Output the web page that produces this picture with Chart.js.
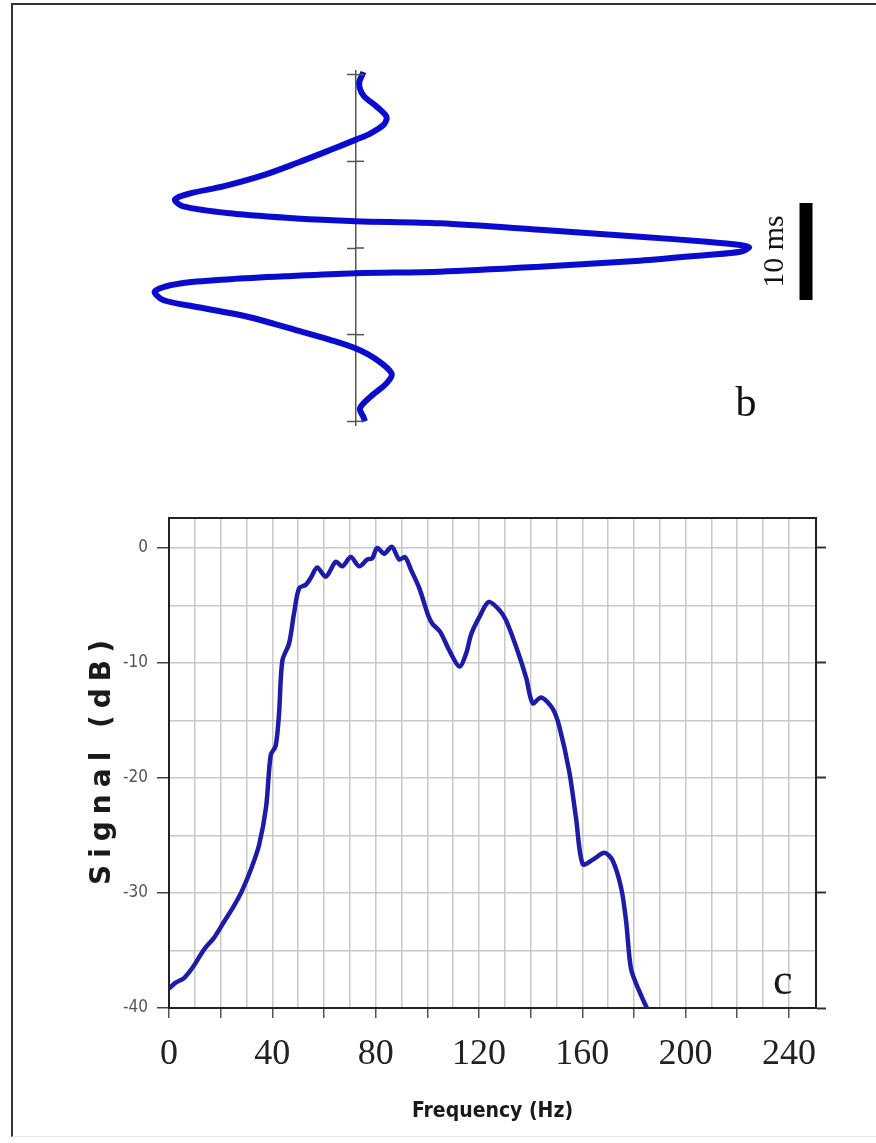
<!DOCTYPE html>
<html>
<head>
<meta charset="utf-8">
<title>Wavelet and amplitude spectrum</title>
<script src="https://cdn.jsdelivr.net/npm/chart.js@4/dist/chart.umd.min.js"></script>
<style>
    html, body { margin: 0; padding: 0; background: #fff; }
    body { width: 876px; height: 1143px; position: relative; overflow: hidden; }
    .frame {
        position: absolute; left: 11px; top: 3px; width: 880px; height: 1131px;
        border-left: 2px solid #333; border-top: 2px solid #333; border-bottom: 1px solid #e4e4e4;
    }
    canvas { position: absolute; left: 0; }
    #waveletChart { top: 0; }
    #spectrumChart { top: 480px; }
</style>
</head>
<body>
<div class="frame"></div>
<canvas id="waveletChart" width="876" height="480"></canvas>
<canvas id="spectrumChart" width="876" height="663"></canvas>

<script>
// Wavelet (panel b): time in ms (down the page) and normalised amplitude
const waveletTime = [
    -20.3, -19.0, -17.6, -16.3, -15.1, -14.2, -13.2, -12.5, -11.3, -9.8, -8.4, -7.1, -6.3, -5.6,
    -4.8, -4.0, -3.4, -3.1, -2.85, -2.1, -1.3, -0.73, -0.35, -0.08, 0.43, 0.8, 1.46, 2.16, 2.73,
    2.9, 3.2, 3.6, 4.1, 5.0, 6.0, 6.8, 7.9, 9.5, 10.6, 11.6, 12.9, 14.5, 15.6, 17.2, 18.5, 19.5, 20.0
];
const waveletAmp = [
    0.019, 0.008, 0.019, 0.053, 0.078, 0.07, 0.036, 0, -0.066, -0.151, -0.236, -0.339, -0.423, -0.462,
    -0.441, -0.321, -0.151, 0, 0.214, 0.469, 0.724, 0.895, 0.98, 1.003, 0.98, 0.895, 0.724, 0.469, 0.214,
    0, -0.151, -0.321, -0.449, -0.513, -0.492, -0.406, -0.279, -0.151, -0.066, 0, 0.053, 0.091, 0.078, 0.036, 0.01, 0.019, 0.023
];

// 10 ms scale bar beside the wavelet
const scaleBarTime = [-5.2, 6.0];
const scaleBarAmp = 1.148;

// Amplitude spectrum (panel c)
const freqHz = [
    0, 2.6, 5.8, 9.7, 13.6, 17.4, 21.3, 25.2, 28.3, 31.8, 34.9, 37.6, 39.4, 41.3, 42.6, 43.9,
    46.5, 48.4, 50.4, 53.0, 54.9, 57.4, 60.7, 64.6, 67.1, 70.4, 73.6, 76.8, 78.7, 80.6, 83.3,
    86.3, 89.1, 91.4, 93.7, 96.9, 100.4, 102, 105, 108.5, 112.4, 115, 117, 120.2, 123.8, 127.9,
    130.5, 134.4, 138.3, 140.8, 144.1, 148.6, 151.2, 155, 157.6, 160.2, 164.1, 168.6, 171.8,
    175.1, 177, 178.9, 182.2, 185.4
];
const signalDb = [
    -38.3, -37.8, -37.4, -36.3, -34.9, -33.9, -32.5, -31.1, -29.8, -27.9, -25.8, -22.5, -18.0, -17.2, -14.4, -9.8,
    -8.3, -5.7, -3.5, -3.2, -2.6, -1.7, -2.5, -1.2, -1.6, -0.8, -1.6, -1.0, -0.9, 0, -0.5,
    0.1, -1.0, -0.8, -1.9, -3.5, -5.9, -6.6, -7.3, -8.9, -10.3, -9.2, -7.5, -6.0, -4.7, -5.4,
    -6.3, -8.6, -11.3, -13.5, -13.0, -14.0, -15.6, -19.5, -23.5, -27.5, -27.1, -26.5, -27.2,
    -29.6, -32.5, -36.6, -38.6, -40.2
];

// Axis ranges
const timeRange = [-20.5, 20.5];
const ampRange = [-0.6, 1.25];
const freqRange = [0, 250.5];
const dbRange = [-40, 2.6];

const transparent = "rgba(0,0,0,0)";

// Extra marks for panel b: right half of the axis ticks, bar label, panel letter
const waveletDecor = {
    id: "waveletDecor",
    afterDraw(chart) {
        const ctx = chart.ctx;
        const xs = chart.scales.x;
        const ys = chart.scales.y;
        const x0 = xs.getPixelForValue(0);

        ctx.save();
        ctx.strokeStyle = "#555";
        ctx.lineWidth = 1.5;
        ys.ticks.forEach((t) => {
            const y = ys.getPixelForValue(t.value);
            ctx.beginPath();
            ctx.moveTo(x0, y);
            ctx.lineTo(x0 + 8, y);
            ctx.stroke();
        });

        // "10 ms" label, rotated
        ctx.fillStyle = "#111";
        ctx.font = "30px 'Liberation Serif'";
        ctx.textAlign = "center";
        ctx.textBaseline = "middle";
        ctx.translate(xs.getPixelForValue(1.07), ys.getPixelForValue(0.4));
        ctx.rotate(-Math.PI / 2);
        ctx.fillText("10 ms", 0, 0);
        ctx.restore();

        ctx.save();
        ctx.fillStyle = "#111";
        ctx.font = "42px 'Liberation Serif'";
        ctx.textAlign = "center";
        ctx.textBaseline = "middle";
        ctx.fillText("b", xs.getPixelForValue(0.995), ys.getPixelForValue(18.1));
        ctx.restore();
    },
};

// Axis titles and panel letter for panel c
const spectrumDecor = {
    id: "spectrumDecor",
    afterDraw(chart) {
        const ctx = chart.ctx;
        const area = chart.chartArea;
        const xs = chart.scales.x;
        const ys = chart.scales.y;

        ctx.save();
        ctx.fillStyle = "#1a1a1a";
        ctx.textAlign = "center";
        ctx.textBaseline = "middle";

        // y title, wide letter spacing
        ctx.save();
        ctx.font = "bold 28px 'DejaVu Sans'";
        ctx.letterSpacing = "7px";
        ctx.translate(103, (area.top + area.bottom) / 2);
        ctx.rotate(-Math.PI / 2);
        ctx.fillText("Signal (dB)", 4, 0);
        ctx.restore();

        // x title, condensed
        ctx.font = "bold 21px 'DejaVu Sans Condensed', 'DejaVu Sans'";
        ctx.fontStretch = "condensed";
        ctx.fillText("Frequency (Hz)", (area.left + area.right) / 2, 632);

        // panel letter
        ctx.fontStretch = "normal";
        ctx.font = "44px 'Liberation Serif'";
        ctx.fillText("c", xs.getPixelForValue(237.6), ys.getPixelForValue(-37.8));
        ctx.restore();
    },
};

// Panel b: wavelet drawn sideways
function initWaveletChart() {
    const ctx = document.getElementById("waveletChart").getContext("2d");

    new Chart(ctx, {
        type: "scatter",
        data: {
            datasets: [
                {
                    data: waveletTime.map((t, i) => ({ x: waveletAmp[i], y: t })),
                    showLine: true,
                    borderColor: "#0b0bd0",
                    borderWidth: 6,
                    pointRadius: 0,
                    tension: 0.3,
                    clip: false,
                },
                {
                    data: scaleBarTime.map((t) => ({ x: scaleBarAmp, y: t })),
                    showLine: true,
                    borderColor: "#000",
                    borderWidth: 13,
                    borderCapStyle: "butt",
                    pointRadius: 0,
                    clip: false,
                },
            ],
        },
        options: {
            responsive: false,
            animation: false,
            events: [],
            layout: {
                padding: { left: 120.8, right: 30, top: 70.3, bottom: 54.3 },
            },
            plugins: {
                legend: { display: false },
                tooltip: { enabled: false },
            },
            scales: {
                x: {
                    type: "linear",
                    min: ampRange[0],
                    max: ampRange[1],
                    display: false,
                },
                y: {
                    type: "linear",
                    min: timeRange[0],
                    max: timeRange[1],
                    reverse: true,
                    position: { x: 0 },
                    ticks: { display: false, stepSize: 10, includeBounds: false },
                    grid: {
                        drawOnChartArea: false,
                        tickLength: 8,
                        tickColor: "#555",
                        tickWidth: 1.5,
                    },
                    border: { color: "#555", width: 1.5 },
                },
            },
        },
        plugins: [waveletDecor],
    });
}

// Panel c: amplitude spectrum
function initSpectrumChart() {
    const ctx = document.getElementById("spectrumChart").getContext("2d");

    new Chart(ctx, {
        type: "scatter",
        data: {
            datasets: [
                {
                    data: freqHz.map((f, i) => ({ x: f, y: signalDb[i] })),
                    showLine: true,
                    borderColor: "#1c1ca8",
                    borderWidth: 4.5,
                    pointRadius: 0,
                    tension: 0.3,
                },
            ],
        },
        options: {
            responsive: false,
            animation: false,
            events: [],
            layout: {
                padding: { left: 0, right: 0, top: 38, bottom: 0 },
            },
            plugins: {
                legend: { display: false },
                tooltip: { enabled: false },
            },
            scales: {
                x: {
                    type: "linear",
                    position: "bottom",
                    min: freqRange[0],
                    max: freqRange[1],
                    afterFit: (s) => { s.height = 135; },
                    ticks: {
                        stepSize: 10,
                        autoSkip: false,
                        maxRotation: 0,
                        padding: 15,
                        color: "#222",
                        font: { family: "'Liberation Serif'", size: 36 },
                        callback: (v) => (v % 40 === 0 ? v : ""),
                    },
                    grid: {
                        color: "#c8c8c8",
                        lineWidth: 1.5,
                        tickLength: 10,
                        tickWidth: 1.5,
                        tickColor: (c) => (c.tick && c.tick.value % 20 === 0 ? "#555" : transparent),
                    },
                    border: { color: "#222", width: 2 },
                },
                xTop: {
                    type: "linear",
                    position: "top",
                    min: freqRange[0],
                    max: freqRange[1],
                    afterFit: (s) => { s.height = 0; },
                    ticks: { display: false },
                    grid: { display: false },
                    border: { color: "#222", width: 2 },
                },
                y: {
                    type: "linear",
                    position: "left",
                    min: dbRange[0],
                    max: dbRange[1],
                    afterFit: (s) => { s.width = 169; },
                    ticks: {
                        stepSize: 5,
                        autoSkip: false,
                        padding: 9,
                        color: "#555",
                        font: { family: "'DejaVu Sans Condensed', 'DejaVu Sans'", size: 17 },
                        callback: (v) => (v % 10 === 0 ? v : ""),
                    },
                    grid: {
                        color: "#c8c8c8",
                        lineWidth: 1.5,
                        tickLength: 12,
                        tickWidth: 1.5,
                        tickColor: (c) => (c.tick && c.tick.value % 10 === 0 ? "#444" : transparent),
                    },
                    border: { color: "#222", width: 2 },
                },
                yRight: {
                    type: "linear",
                    position: "right",
                    min: dbRange[0],
                    max: dbRange[1],
                    afterFit: (s) => { s.width = 60; },
                    ticks: { display: false, stepSize: 5, autoSkip: false },
                    grid: {
                        drawOnChartArea: false,
                        tickLength: 10,
                        tickWidth: 2,
                        tickColor: (c) => (c.tick && c.tick.value % 10 === 0 ? "#333" : transparent),
                    },
                    border: { color: "#222", width: 2 },
                },
            },
        },
        plugins: [spectrumDecor],
    });
}

initWaveletChart();
initSpectrumChart();
</script>
</body>
</html>
